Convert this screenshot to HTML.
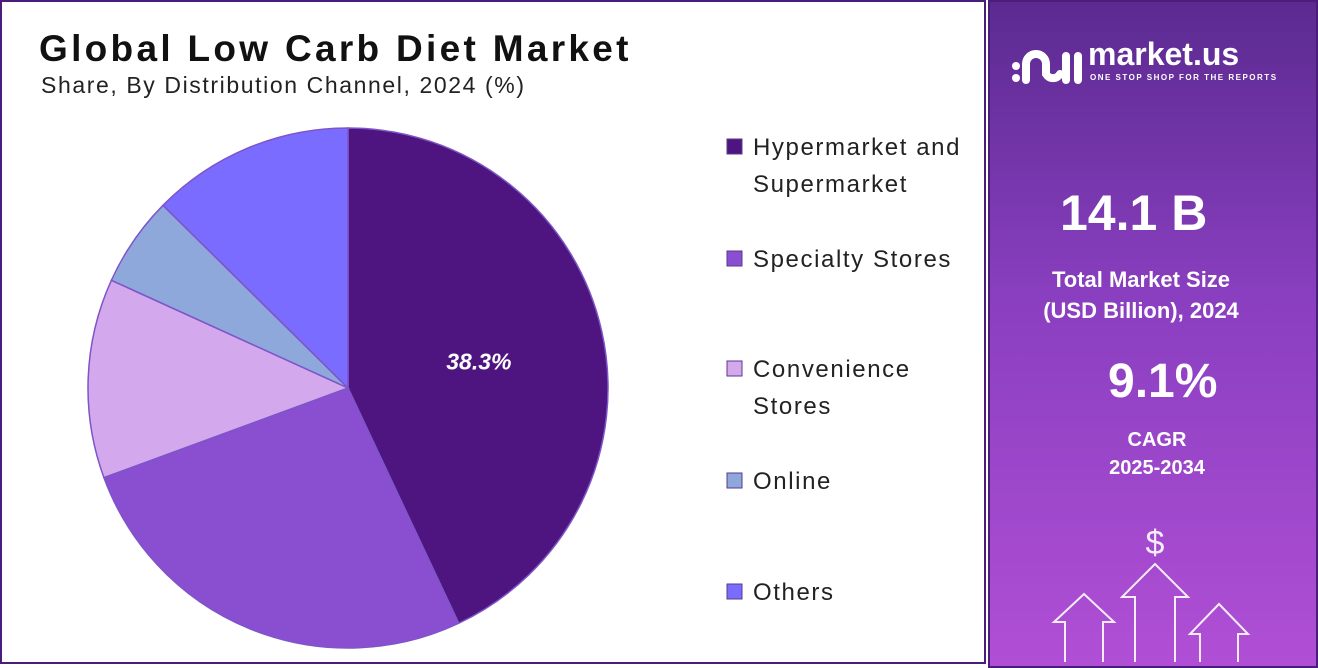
<!DOCTYPE html>
<html><head><meta charset="utf-8"><style>
body{margin:0;width:1318px;height:668px;overflow:hidden;background:#fff;font-family:"Liberation Sans",sans-serif;}
#wrap{position:relative;width:1318px;height:668px;}
#left{position:absolute;left:0;top:0;width:986px;height:664px;border:2px solid #4a1d7a;box-sizing:border-box;background:#fff;}
#right{position:absolute;left:988px;top:0;width:330px;height:668px;background:linear-gradient(180deg,#5b2a90 0%,#8a3fc0 45%,#b04fd6 100%);border:2px solid #4a1d7a;box-sizing:border-box;color:#fff;text-align:center;}
.t{position:absolute;font-weight:bold;}
</style></head><body>
<div id="wrap">
<div id="left">
<div class="t" style="left:37px;top:26px;font-size:37px;letter-spacing:3.3px;color:#111;">Global Low Carb Diet Market</div>
<div style="position:absolute;left:39px;top:70px;font-size:23px;letter-spacing:1.6px;color:#222;">Share, By Distribution Channel, 2024 (%)</div>
<svg id="pie" width="986" height="664" style="position:absolute;left:-2px;top:-2px;"></svg>
</div>
<div id="right">
<svg width="80" height="60" style="position:absolute;left:18px;top:32px">
<circle cx="8" cy="32" r="4" fill="#fff"/><circle cx="8" cy="44" r="4" fill="#fff"/>
<path d="M18 46 V30 a10 10 0 0 1 20 0 V40 a8 8 0 0 0 14 0" stroke="#fff" stroke-width="8" fill="none" stroke-linecap="round"/>
<path d="M58 46 V22 M70 46 V22" stroke="#fff" stroke-width="8" stroke-linecap="round"/></svg>
<div class="t" style="left:98px;top:34px;font-size:32px;">market.us</div>
<div class="t" style="left:100px;top:71px;font-size:8px;letter-spacing:1.5px;">ONE STOP SHOP FOR THE REPORTS</div>
<div class="t" style="left:70px;top:182px;font-size:50px;">14.1 B</div>
<div class="t" style="left:-12px;width:326px;top:262px;font-size:22px;line-height:31px;">Total Market Size<br>(USD Billion), 2024</div>
<div class="t" style="left:118px;top:352px;font-size:48px;">9.1%</div>
<div class="t" style="left:4px;width:326px;top:424px;font-size:20px;line-height:28px;">CAGR<br>2025-2034</div>
<svg width="326" height="140" style="position:absolute;left:0;top:520px" fill="none" stroke="#fff" stroke-width="2" opacity="0.9">
<text x="165" y="32" fill="#fff" stroke="none" font-size="34" text-anchor="middle" font-family="Liberation Sans">$</text>
<path d="M145 148 V75 H132 L165 42 L198 75 H185 V148"/>
<path d="M75 148 V100 H64 L94 72 L124 100 H113 V148"/>
<path d="M210 148 V112 H200 L229 82 L258 112 H248 V148"/>
</svg>
</div>
</div>
<script>
const categories=["Hypermarket and Supermarket","Specialty Stores","Convenience Stores","Online","Others"];
const values=[43.0,26.4,12.4,5.6,12.6];
const printedLabels=["38.3%","","","",""];
const colors=["#4e1580","#8a4fd0","#d4a8ec","#8fa8dc","#7a6cff"];
const legendLines=[["Hypermarket and","Supermarket"],["Specialty Stores"],["Convenience","Stores"],["Online"],["Others"]];
const legendY=[145,257,367,479,590];
const NS="http://www.w3.org/2000/svg";
const svg=document.getElementById('pie');
const cx=348,cy=388,r=260;
const total=values.reduce((a,b)=>a+b,0);
function pt(a,rr){return [cx+rr*Math.sin(a),cy-rr*Math.cos(a)];}
let acc=0;
values.forEach((v,i)=>{
 const a0=acc/total*2*Math.PI;acc+=v;const a1=acc/total*2*Math.PI;
 const p0=pt(a0,r),p1=pt(a1,r);
 const p=document.createElementNS(NS,'path');
 p.setAttribute('d',`M${cx},${cy} L${p0[0]},${p0[1]} A${r},${r} 0 ${a1-a0>Math.PI?1:0} 1 ${p1[0]},${p1[1]} Z`);
 p.setAttribute('fill',colors[i]);p.setAttribute('stroke','#7d55c8');p.setAttribute('stroke-width','1.5');
 
 
 svg.appendChild(p);
 if(printedLabels[i]){
  const m=pt((a0+a1)/2,r*0.5);
  const t=document.createElementNS(NS,'text');
  t.setAttribute('x',m[0]+4);t.setAttribute('y',m[1]+10);t.setAttribute('fill','#fff');
  t.setAttribute('font-size','23');t.setAttribute('font-weight','bold');t.setAttribute('font-style','italic');
  t.setAttribute('text-anchor','middle');t.setAttribute('font-family','Liberation Sans');
  t.textContent=printedLabels[i];
  
  
  svg.appendChild(t);
 }
});
categories.forEach((c,i)=>{
 const g=document.createElementNS(NS,'g');
 
 
 const rc=document.createElementNS(NS,'rect');
 rc.setAttribute('x',727);rc.setAttribute('y',legendY[i]-6);rc.setAttribute('width',15);rc.setAttribute('height',15);
 rc.setAttribute('fill',colors[i]);rc.setAttribute('stroke','#5a3a8a');rc.setAttribute('stroke-width','1');
 g.appendChild(rc);
 legendLines[i].forEach((ln,j)=>{
  const t=document.createElementNS(NS,'text');
  t.setAttribute('x',753);t.setAttribute('y',legendY[i]+10+j*37);t.setAttribute('font-size','24');
  t.setAttribute('letter-spacing','1.6');
  t.setAttribute('fill','#222');t.setAttribute('font-family','Liberation Sans');t.textContent=ln;
  g.appendChild(t);
 });
 svg.appendChild(g);
});
</script>
</body></html>
